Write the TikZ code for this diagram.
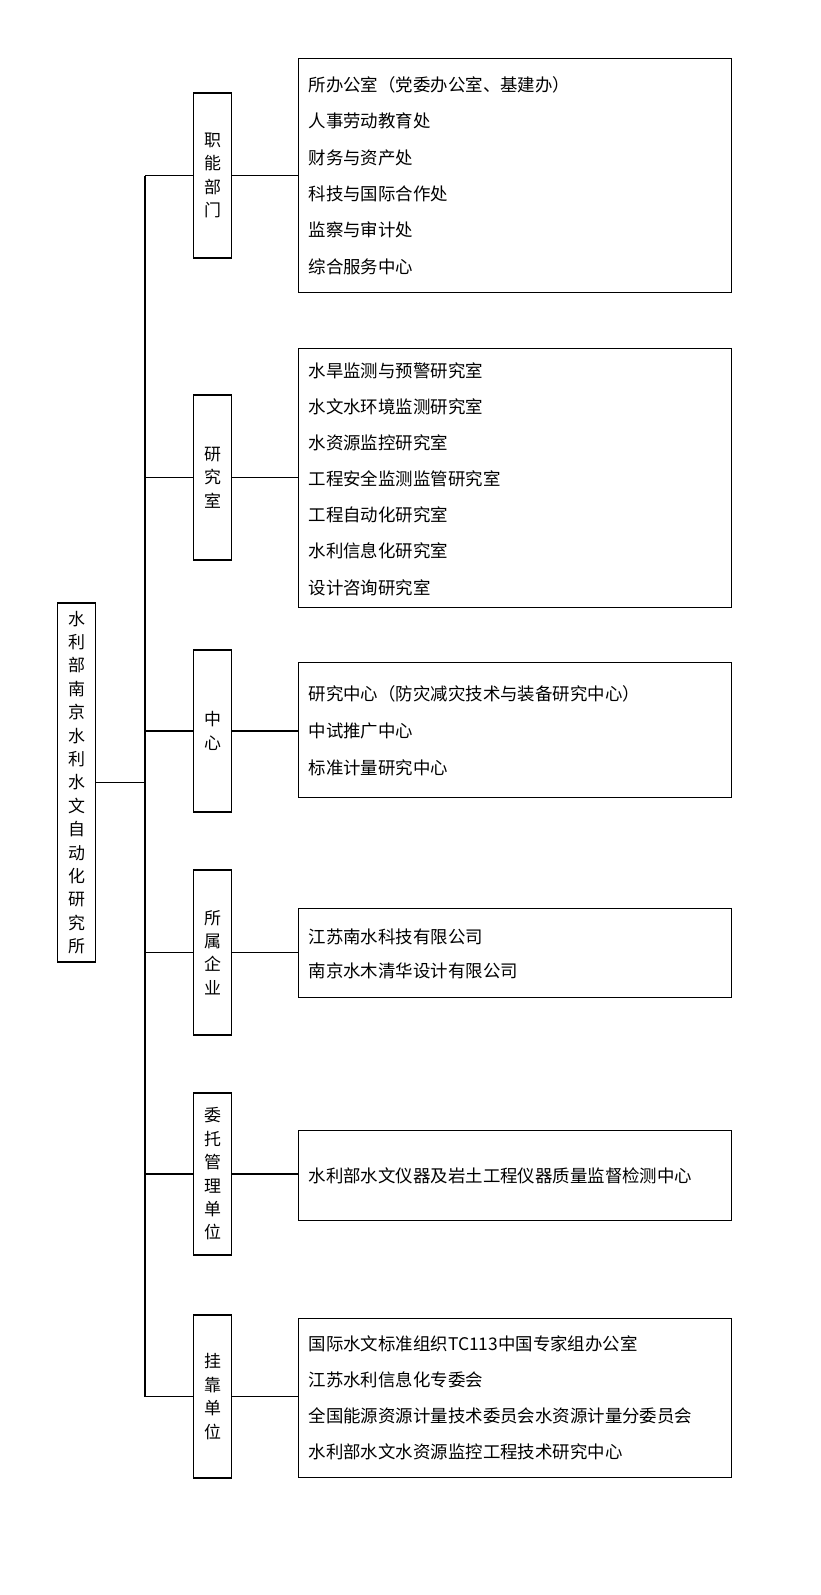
\documentclass[tikz,border=0pt]{standalone}
\usepackage{fontspec}
\newfontfamily\cjk{Noto Sans CJK SC}
\begin{document}
\begin{tikzpicture}[x=1bp,y=-1bp,line width=1.3pt,
    vbox/.style={draw,minimum width=38bp,align=center,inner sep=0pt,
        font={\cjk\fontsize{17}{23.5}\selectfont}},
    listbox/.style={draw,minimum width=433bp,anchor=north west,inner sep=0pt},
    item/.style={anchor=west,inner sep=0pt,font={\cjk\fontsize{17.5}{19}\selectfont}}]
    \useasboundingbox (0,0) rectangle (820,1595);

    % Root box
    \node[vbox,minimum height=359bp] (root) at (76.5,782.5)
        {水\\利\\部\\南\\京\\水\\利\\水\\文\\自\\动\\化\\研\\究\\所};

    % Middle boxes
    \node[vbox,minimum height=165bp] (zn) at (212.5,175.5) {职\\能\\部\\门};
    \node[vbox,minimum height=165bp] (yj) at (212.5,477.5) {研\\究\\室};
    \node[vbox,minimum height=162bp] (zx) at (212.5,731) {中\\心};
    \node[vbox,minimum height=165bp] (ss) at (212.5,952.5) {所\\属\\企\\业};
    \node[vbox,minimum height=162bp] (wt) at (212.5,1174) {委\\托\\管\\理\\单\\位};
    \node[vbox,minimum height=163bp] (gk) at (212.5,1396.5) {挂\\靠\\单\\位};

    % Right boxes
    \node[listbox,minimum height=234bp] (b1) at (298,58) {};
    \node[listbox,minimum height=259bp] (b2) at (298,348) {};
    \node[listbox,minimum height=135bp] (b3) at (298,662) {};
    \node[listbox,minimum height=89bp] (b4) at (298,908) {};
    \node[listbox,minimum height=90bp] (b5) at (298,1130) {};
    \node[listbox,minimum height=159bp] (b6) at (298,1318) {};

    % Items
    \node[item] (t11) at (308,85) {所办公室（党委办公室、基建办）};
    \node[item] (t12) at (308,121) {人事劳动教育处};
    \node[item] (t13) at (308,158) {财务与资产处};
    \node[item] (t14) at (308,194) {科技与国际合作处};
    \node[item] (t15) at (308,230) {监察与审计处};
    \node[item] (t16) at (308,267) {综合服务中心};

    \node[item] (t21) at (308,371) {水旱监测与预警研究室};
    \node[item] (t22) at (308,407) {水文水环境监测研究室};
    \node[item] (t23) at (308,443) {水资源监控研究室};
    \node[item] (t24) at (308,479) {工程安全监测监管研究室};
    \node[item] (t25) at (308,515) {工程自动化研究室};
    \node[item] (t26) at (308,551) {水利信息化研究室};
    \node[item] (t27) at (308,588) {设计咨询研究室};

    \node[item] (t31) at (308,694) {研究中心（防灾减灾技术与装备研究中心）};
    \node[item] (t32) at (308,731) {中试推广中心};
    \node[item] (t33) at (308,768) {标准计量研究中心};

    \node[item] (t41) at (308,937) {江苏南水科技有限公司};
    \node[item] (t42) at (308,971) {南京水木清华设计有限公司};

    \node[item] (t51) at (308,1176) {水利部水文仪器及岩土工程仪器质量监督检测中心};

    \node[item] (t61) at (308,1344) {国际水文标准组织TC113中国专家组办公室};
    \node[item] (t62) at (308,1380) {江苏水利信息化专委会};
    \node[item] (t63) at (308,1416) {全国能源资源计量技术委员会水资源计量分委员会};
    \node[item] (t64) at (308,1452) {水利部水文水资源监控工程技术研究中心};

    % Trunk
    \coordinate (top) at (145,175.5);
    \coordinate (bot) at (145,1396.5);
    \draw (top) -- (bot);
    \draw (root.east) -- (root.east -| top);

    % Branches
    \foreach \m/\b in {zn/b1,yj/b2,zx/b3,ss/b4,wt/b5,gk/b6} {
        \draw (\m.west -| top) -- (\m.west);
        \draw (\m.east) -- (\m.east -| \b.west);
    }
\end{tikzpicture}
\end{document}
